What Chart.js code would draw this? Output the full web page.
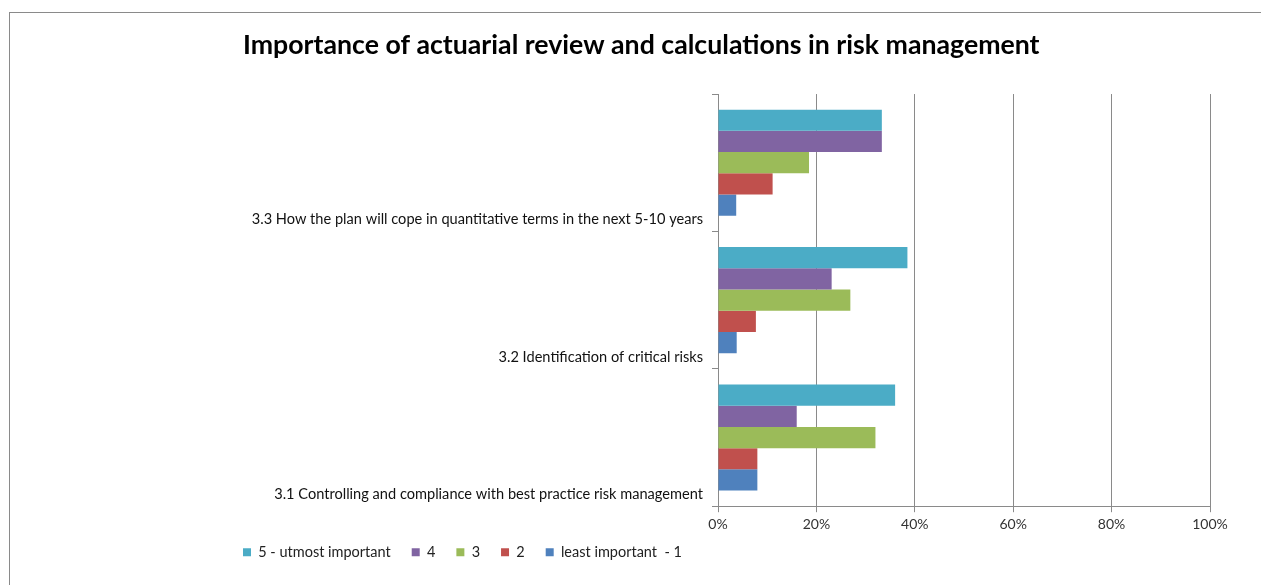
<!DOCTYPE html>
<html>
<head>
<meta charset="utf-8">
<script src="https://cdn.jsdelivr.net/npm/chart.js@4"></script>
<style>
  html, body { margin: 0; padding: 0; background: #fff; }
  #wrap { width: 1261px; height: 585px; }
</style>
</head>
<body>
<div id="wrap"><canvas id="chart" width="1261" height="585"></canvas></div>
<script>
// categories, top to bottom
const categories = [
  '3.3 How the plan will cope in quantitative terms in the next 5-10 years',
  '3.2 Identification of critical risks',
  '3.1 Controlling and compliance with best practice risk management'
];
const seriesNames = ['5 - utmost important', '4', '3', '2', 'least important  - 1'];
const seriesColors = ['#4BACC6', '#8064A2', '#9BBB59', '#C0504D', '#4F81BD'];

// percent of answers per category
const utmost5 = [33.3, 38.5, 36.0];
const rating4 = [33.3, 23.1, 16.0];
const rating3 = [18.5, 26.9, 32.0];
const rating2 = [11.1, 7.7, 8.0];
const least1 = [3.7, 3.8, 8.0];

const xTicks = [0, 20, 40, 60, 80, 100];

const seriesValues = [utmost5, rating4, rating3, rating2, least1];

const padLeft = 243;
const plotLeft = 718;
const legendGap = 21;

// grey frame like the excel chart border
const frame = {
  id: 'frame',
  beforeDraw(chart) {
    const c = chart.ctx;
    c.save();
    c.strokeStyle = '#8a8a8a';
    c.lineWidth = 1;
    c.strokeRect(9.5, 12.5, 1400, 700);
    c.restore();
  }
};

// legend in excel starts flush with the title and sits a bit higher
const legendNudge = {
  id: 'legendNudge',
  afterLayout(chart) {
    const lg = chart.legend;
    lg.left = padLeft - legendGap;
    lg.top -= 13;
  }
};

const ctx = document.getElementById('chart');

new Chart(ctx, {
  type: 'bar',
  data: {
    labels: categories,
    datasets: seriesNames.map((name, i) => ({
      label: name,
      data: seriesValues[i],
      backgroundColor: seriesColors[i],
      borderWidth: 0,
      categoryPercentage: 0.773,
      barPercentage: 1.0
    }))
  },
  options: {
    indexAxis: 'y',
    responsive: false,
    animation: false,
    layout: { padding: { left: padLeft, right: 51, top: 29, bottom: 6 } },
    scales: {
      x: {
        min: 0,
        max: 100,
        afterBuildTicks: (axis) => { axis.ticks = xTicks.map(v => ({ value: v })); },
        grid: { color: '#8a8a8a', tickLength: 6, lineWidth: 1 },
        border: { color: '#8a8a8a' },
        ticks: {
          padding: 4,
          color: '#333',
          font: { family: 'Lato', size: 14 },
          callback: (v) => v + '%'
        }
      },
      y: {
        afterFit: (axis) => { axis.width = plotLeft - padLeft; },
        grid: { drawOnChartArea: false, tickLength: 6, color: '#8a8a8a', offset: true },
        border: { color: '#8a8a8a' },
        ticks: {
          padding: 9,
          labelOffset: 57,
          color: '#111',
          font: { family: 'Lato', size: 14.6 }
        }
      }
    },
    plugins: {
      title: {
        display: true,
        text: 'Importance of actuarial review and calculations in risk management',
        align: 'start',
        color: '#000',
        font: { family: 'Lato', size: 26.7, weight: 'bold' },
        padding: { top: 0, bottom: 33 }
      },
      legend: {
        position: 'bottom',
        align: 'start',
        maxHeight: 42,
        labels: {
          boxWidth: 8,
          boxHeight: 8,
          padding: legendGap,
          color: '#222',
          font: { family: 'Lato', size: 14.5 }
        }
      },
      tooltip: { enabled: false }
    }
  },
  plugins: [frame, legendNudge]
});
</script>
</body>
</html>
